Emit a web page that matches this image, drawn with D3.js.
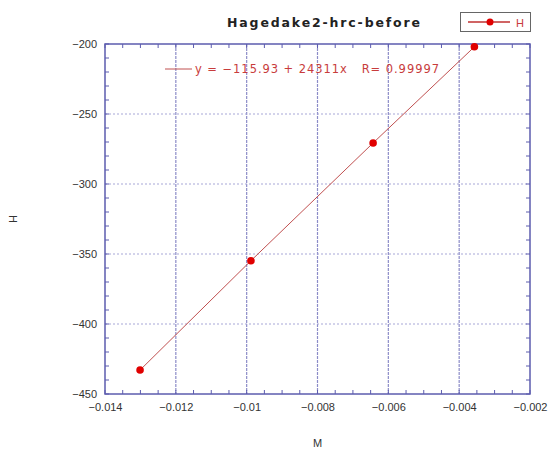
<!DOCTYPE html>
<html><head><meta charset="utf-8">
<script src="https://cdn.jsdelivr.net/npm/d3@7"></script>
<style>body{margin:0;background:#fff}svg{display:block}</style>
</head><body>
<svg id="c" width="556" height="452"></svg>
<script>
const seriesName = "H";
const titleText = "Hagedake2-hrc-before";
const xLabel = "M";
const yLabel = "H";
const M = [-0.01301, -0.00988, -0.00643, -0.00357];
const H = [-432.9, -354.8, -270.7, -202.0];
const xTicks = [-0.014, -0.012, -0.01, -0.008, -0.006, -0.004, -0.002];
const xTickLabels = ["-0.014", "-0.012", "-0.01", "-0.008", "-0.006", "-0.004", "-0.002"];
const yTicks = [-450, -400, -350, -300, -250, -200];
const fitText = "y = -115.93 + 24311x   R= 0.99997";

const svg = d3.select("#c");
const L = 105, R = 530, T = 44, B = 394;
const x = d3.scaleLinear().domain([-0.014, -0.002]).range([L, R]);
const y = d3.scaleLinear().domain([-450, -200]).range([B, T]);
const axisCol = "#5c5cae", txtCol = "#333";
const fmtMinus = s => s.replace(/-/g, "\u2212");

// grid
const g = svg.append("g");
g.selectAll("line.vx").data(xTicks.slice(1, -1)).join("line")
  .attr("x1", d => x(d)).attr("x2", d => x(d)).attr("y1", T).attr("y2", B)
  .attr("stroke", "#8c8cc8").attr("stroke-width", 1.2).attr("stroke-dasharray", "3,1");
g.selectAll("line.hy").data(yTicks.slice(1, -1)).join("line")
  .attr("y1", d => y(d)).attr("y2", d => y(d)).attr("x1", L).attr("x2", R)
  .attr("stroke", "#a8a8d8").attr("stroke-width", 1.2).attr("stroke-dasharray", "2,2");

// minor ticks
const xMinor = d3.range(-0.014, -0.00199, 0.0005);
const yMinor = d3.range(-450, -199.9, 10);
const tk = svg.append("g").attr("stroke", axisCol).attr("stroke-width", 1);
xMinor.forEach(v => {
  tk.append("line").attr("x1", x(v)).attr("x2", x(v)).attr("y1", B).attr("y2", B - 4);
  tk.append("line").attr("x1", x(v)).attr("x2", x(v)).attr("y1", T).attr("y2", T + 4);
});
yMinor.forEach(v => {
  tk.append("line").attr("y1", y(v)).attr("y2", y(v)).attr("x1", L).attr("x2", L + 4);
  tk.append("line").attr("y1", y(v)).attr("y2", y(v)).attr("x1", R).attr("x2", R - 4);
});

// frame
svg.append("rect").attr("x", L).attr("y", T).attr("width", R - L).attr("height", B - T)
  .attr("fill", "none").attr("stroke", axisCol).attr("stroke-width", 1.5);

// axes labels via d3 axes
const xa = svg.append("g").attr("transform", `translate(0,${B})`)
  .call(d3.axisBottom(x).tickValues(xTicks).tickSize(0).tickPadding(9)
    .tickFormat((d, i) => fmtMinus(xTickLabels[i])));
const ya = svg.append("g").attr("transform", `translate(${L},0)`)
  .call(d3.axisLeft(y).tickValues(yTicks).tickSize(0).tickPadding(8)
    .tickFormat(d => fmtMinus(String(d))));
[xa, ya].forEach(a => {
  a.select(".domain").remove();
  a.selectAll("text").attr("fill", txtCol).attr("font-family", "Liberation Sans, Arial, sans-serif")
    .attr("font-size", 11);
});

// data line and points
const pts = M.map((m, i) => [m, H[i]]);
svg.append("path").datum(pts)
  .attr("d", d3.line().x(d => x(d[0])).y(d => y(d[1])))
  .attr("fill", "none").attr("stroke", "#c05050").attr("stroke-width", 1);
svg.selectAll("circle.p").data(pts).join("circle")
  .attr("cx", d => x(d[0])).attr("cy", d => y(d[1])).attr("r", 3.8).attr("fill", "#e00000");

// fit text
svg.append("line").attr("x1", 165).attr("x2", 192).attr("y1", 69).attr("y2", 69)
  .attr("stroke", "#c05050").attr("stroke-width", 1);
svg.append("text").attr("x", 195).attr("y", 73).text(fmtMinus(fitText))
  .attr("fill", "#c83c3c").attr("font-family", "DejaVu Sans, sans-serif")
  .attr("font-size", 11.5).style("white-space", "pre")
  .attr("textLength", 244).attr("lengthAdjust", "spacing");

// title
svg.append("text").attr("x", 227).attr("y", 27)
  .text(titleText).attr("font-family", "DejaVu Sans, sans-serif").attr("font-weight", "bold")
  .attr("font-size", 12.5).attr("fill", "#222")
  .attr("textLength", 193).attr("lengthAdjust", "spacing");

// legend
svg.append("rect").attr("x", 460.5).attr("y", 12.5).attr("width", 70).attr("height", 19)
  .attr("fill", "#fff").attr("stroke", "#666").attr("stroke-width", 1);
svg.append("line").attr("x1", 468).attr("x2", 510).attr("y1", 22).attr("y2", 22)
  .attr("stroke", "#c03030").attr("stroke-width", 1.3);
svg.append("circle").attr("cx", 490).attr("cy", 22).attr("r", 3.5).attr("fill", "#e00000");
svg.append("text").attr("x", 516).attr("y", 26.5).text(seriesName)
  .attr("fill", "#c83c3c").attr("font-family", "Liberation Sans, Arial, sans-serif").attr("font-size", 11);

// axis titles
svg.append("text").attr("x", (L + R) / 2).attr("y", 447).attr("text-anchor", "middle")
  .text(xLabel).attr("font-family", "Liberation Sans, Arial, sans-serif").attr("font-size", 11).attr("fill", txtCol);
svg.append("text").attr("transform", `translate(17,${(T + B) / 2}) rotate(-90)`).attr("text-anchor", "middle")
  .text(yLabel).attr("font-family", "Liberation Sans, Arial, sans-serif").attr("font-size", 11).attr("fill", txtCol);
</script>
</body></html>
